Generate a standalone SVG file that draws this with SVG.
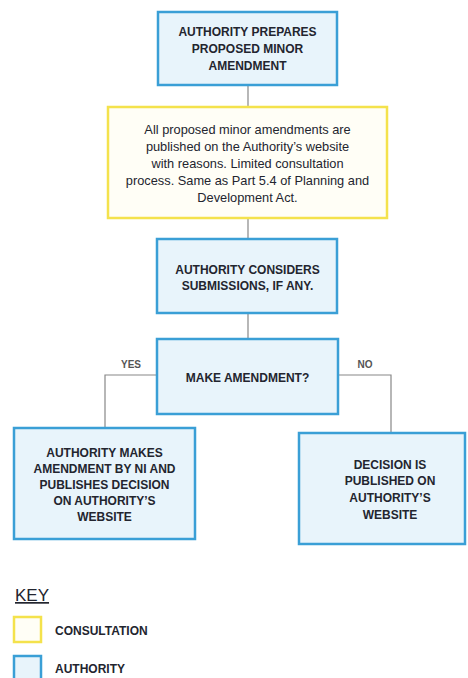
<svg xmlns="http://www.w3.org/2000/svg" width="468" height="678" viewBox="0 0 468 678">
<style>
.auth{fill:#e8f4fb;stroke:#3a9fd6;stroke-width:2.5}
.cons{fill:#fffef6;stroke:#f4e24c;stroke-width:2.5}
.t{font-family:"Liberation Sans",Arial,sans-serif;font-weight:bold;font-size:12px;fill:#23252f;text-anchor:middle}
.b{font-family:"Liberation Sans",Arial,sans-serif;font-size:12.8px;fill:#23252f;text-anchor:middle}
.lbl{font-family:"Liberation Sans",Arial,sans-serif;font-weight:bold;font-size:10px;fill:#555;text-anchor:middle}
.k{font-family:"Liberation Sans",Arial,sans-serif;font-weight:bold;font-size:12px;fill:#23252f}
.ln{fill:none;stroke:#888;stroke-width:1.2}
</style>
<rect width="468" height="678" fill="#ffffff"/>
<g id="connectors">
<line class="ln" x1="248" y1="85" x2="248" y2="107"/>
<line class="ln" x1="248" y1="218" x2="248" y2="239"/>
<line class="ln" x1="248" y1="313" x2="248" y2="339"/>
<polyline class="ln" points="157,375 105,375 105,428"/>
<polyline class="ln" points="338,375 391,375 391,433" stroke="#666"/>
<text class="lbl" x="131" y="368">YES</text>
<text class="lbl" x="365" y="368">NO</text>
</g>
<g id="node1">
<rect class="auth" x="158" y="12" width="179" height="73"/>
<text class="t" x="247.5" y="36">AUTHORITY PREPARES</text>
<text class="t" x="247.5" y="53">PROPOSED MINOR</text>
<text class="t" x="247.5" y="70">AMENDMENT</text>
</g>
<g id="node2">
<rect class="cons" x="108" y="107" width="279" height="111"/>
<text class="b" x="247.5" y="134">All proposed minor amendments are</text>
<text class="b" x="247.5" y="151">published on the Authority’s website</text>
<text class="b" x="247.5" y="168">with reasons. Limited consultation</text>
<text class="b" x="247.5" y="185">process. Same as Part 5.4 of Planning and</text>
<text class="b" x="247.5" y="202">Development Act.</text>
</g>
<g id="node3">
<rect class="auth" x="157" y="239" width="180" height="74"/>
<text class="t" x="247.5" y="274">AUTHORITY CONSIDERS</text>
<text class="t" x="247.5" y="290">SUBMISSIONS, IF ANY.</text>
</g>
<g id="node4">
<rect class="auth" x="157" y="339" width="181" height="75"/>
<text class="t" x="247.5" y="382">MAKE AMENDMENT?</text>
</g>
<g id="node5">
<rect class="auth" x="14" y="428" width="181" height="111"/>
<text class="t" x="104.5" y="457">AUTHORITY MAKES</text>
<text class="t" x="104.5" y="473">AMENDMENT BY NI AND</text>
<text class="t" x="104.5" y="489">PUBLISHES DECISION</text>
<text class="t" x="104.5" y="505">ON AUTHORITY’S</text>
<text class="t" x="104.5" y="521">WEBSITE</text>
</g>
<g id="node6">
<rect class="auth" x="299" y="433" width="166" height="111"/>
<text class="t" x="390" y="469">DECISION IS</text>
<text class="t" x="390" y="485">PUBLISHED ON</text>
<text class="t" x="390" y="502">AUTHORITY’S</text>
<text class="t" x="390" y="519">WEBSITE</text>
</g>
<g id="key">
<text x="15" y="601" font-family="Liberation Sans,Arial,sans-serif" font-size="17" fill="#23252f" text-decoration="underline">KEY</text>
<rect class="cons" x="14" y="617" width="27" height="25"/>
<text class="k" x="55" y="635">CONSULTATION</text>
<rect class="auth" x="14" y="656" width="27" height="25"/>
<text class="k" x="55" y="673">AUTHORITY</text>
</g>
</svg>
